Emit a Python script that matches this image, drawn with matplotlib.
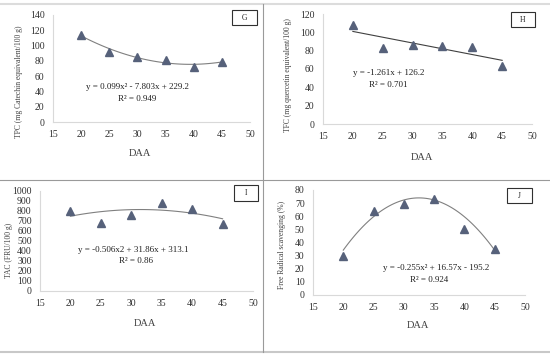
import matplotlib.pyplot as plt
import numpy as np
from matplotlib.lines import Line2D
from matplotlib.patches import Rectangle

plt.rcParams['font.family'] = ['Liberation Serif', 'DejaVu Serif']

# ---------------------------------------------------------------- data
daa = [20, 25, 30, 35, 40, 45]
tpc = [114, 92, 85, 81, 72, 79]
tfc = [108, 83, 86, 85, 84, 63]
tac = [805, 685, 760, 880, 820, 668]
frs = [30, 64, 69, 73, 50, 35]

# trendline coefficients as printed on the chart (highest power first)
tpc_fit = [0.099, -7.803, 229.2]
tfc_fit = [-1.261, 126.2]
tac_fit = [-0.506, 31.86, 313.1]
frs_fit = [-0.255, 16.57, -195.2]

W, H = 550, 357
MARKER = '#56617a'
SPINE = '#d9d9d9'


def fx(px):
    return px / W


def fy(py):
    return 1 - py / H


fig = plt.figure(figsize=(5.5, 3.57), dpi=100)


def panel(rect, y, fit, ylim, yticks, line_color):
    x0, y0, x1, y1 = rect
    ax = fig.add_axes([fx(x0), fy(y1), (x1 - x0) / W, (y1 - y0) / H])
    xs = np.linspace(20, 45, 100)
    ax.plot(xs, np.polyval(fit, xs), color=line_color, lw=0.8, zorder=1)
    ax.plot(daa, y, '^', color=MARKER, ms=6, zorder=2)
    ax.set_xlim(15, 50)
    ax.set_ylim(*ylim)
    ax.set_xticks(range(15, 51, 5))
    ax.set_yticks(yticks)
    ax.tick_params(length=0, labelsize=7, pad=6, labelcolor='#303030')
    for s in ['top', 'right']:
        ax.spines[s].set_visible(False)
    for s in ['left', 'bottom']:
        ax.spines[s].set_color(SPINE)
        ax.spines[s].set_linewidth(0.8)
    return ax


# G
panel((53, 15, 250, 122), tpc, tpc_fit, (0, 140), range(0, 141, 20), '#808080')
# H
panel((323, 14, 532, 124), tfc, tfc_fit, (0, 120), range(0, 121, 20), '#404040')
# I
panel((40, 191, 253, 291), tac, tac_fit, (0, 1000), range(0, 1001, 100), '#808080')
# J
panel((313, 190, 525, 295), frs, frs_fit, (0, 80), range(0, 81, 10), '#808080')

# y axis labels
ylabels = [
    (19, 82, 'TPC (mg Catechin equivalent/100 g)'),
    (288, 75, 'TFC (mg quercetin equivalent/100 g)'),
    (9, 250, 'TAC (FRU/100 g)'),
    (282, 245, 'Free Radical scavenging (%)'),
]
for x, y, t in ylabels:
    fig.text(fx(x), fy(y), t, rotation=90, ha='center', va='center', fontsize=5.5, color='#404040')

# x axis labels
for x, y in [(140, 153), (422, 157), (145, 324), (418, 326)]:
    fig.text(fx(x), fy(y), 'DAA', ha='center', va='center', fontsize=7.5, color='#404040')

# equations
eqs = [
    (137, 87, 'y = 0.099x² - 7.803x + 229.2'),
    (137, 99, 'R² = 0.949'),
    (389, 73, 'y = -1.261x + 126.2'),
    (388, 85, 'R² = 0.701'),
    (133, 250, 'y = -0.506x2 + 31.86x + 313.1'),
    (136, 261, 'R² = 0.86'),
    (436, 268, 'y = -0.255x² + 16.57x - 195.2'),
    (429, 280, 'R² = 0.924'),
]
for x, y, t in eqs:
    fig.text(fx(x), fy(y), t, ha='center', va='center', fontsize=6.5, color='#202020')

# panel letter boxes
boxes = [
    (232, 10, 257, 25, 'G'),
    (511, 12, 535, 27, 'H'),
    (234, 185, 258, 201, 'I'),
    (507, 188, 532, 203, 'J'),
]
for x0, y0, x1, y1, t in boxes:
    fig.add_artist(Rectangle((fx(x0), fy(y1)), (x1 - x0) / W, (y1 - y0) / H,
                             transform=fig.transFigure, fill=False, ec='#303030', lw=0.8))
    fig.text(fx((x0 + x1) / 2), fy((y0 + y1) / 2), t, ha='center', va='center',
             fontsize=5.5, color='#202020')

# outer frame lines
fig.add_artist(Line2D([0, 1], [fy(4), fy(4)], transform=fig.transFigure, color='#dcdcdc', lw=1.5))
fig.add_artist(Line2D([0, 1], [fy(180), fy(180)], transform=fig.transFigure, color='#9a9a9a', lw=0.8))
fig.add_artist(Line2D([0, 1], [fy(352), fy(352)], transform=fig.transFigure, color='#c8c8c8', lw=1.5))
fig.add_artist(Line2D([fx(263), fx(263)], [fy(4), fy(352)], transform=fig.transFigure, color='#9a9a9a', lw=0.8))

fig.savefig('out.png', dpi=100)
